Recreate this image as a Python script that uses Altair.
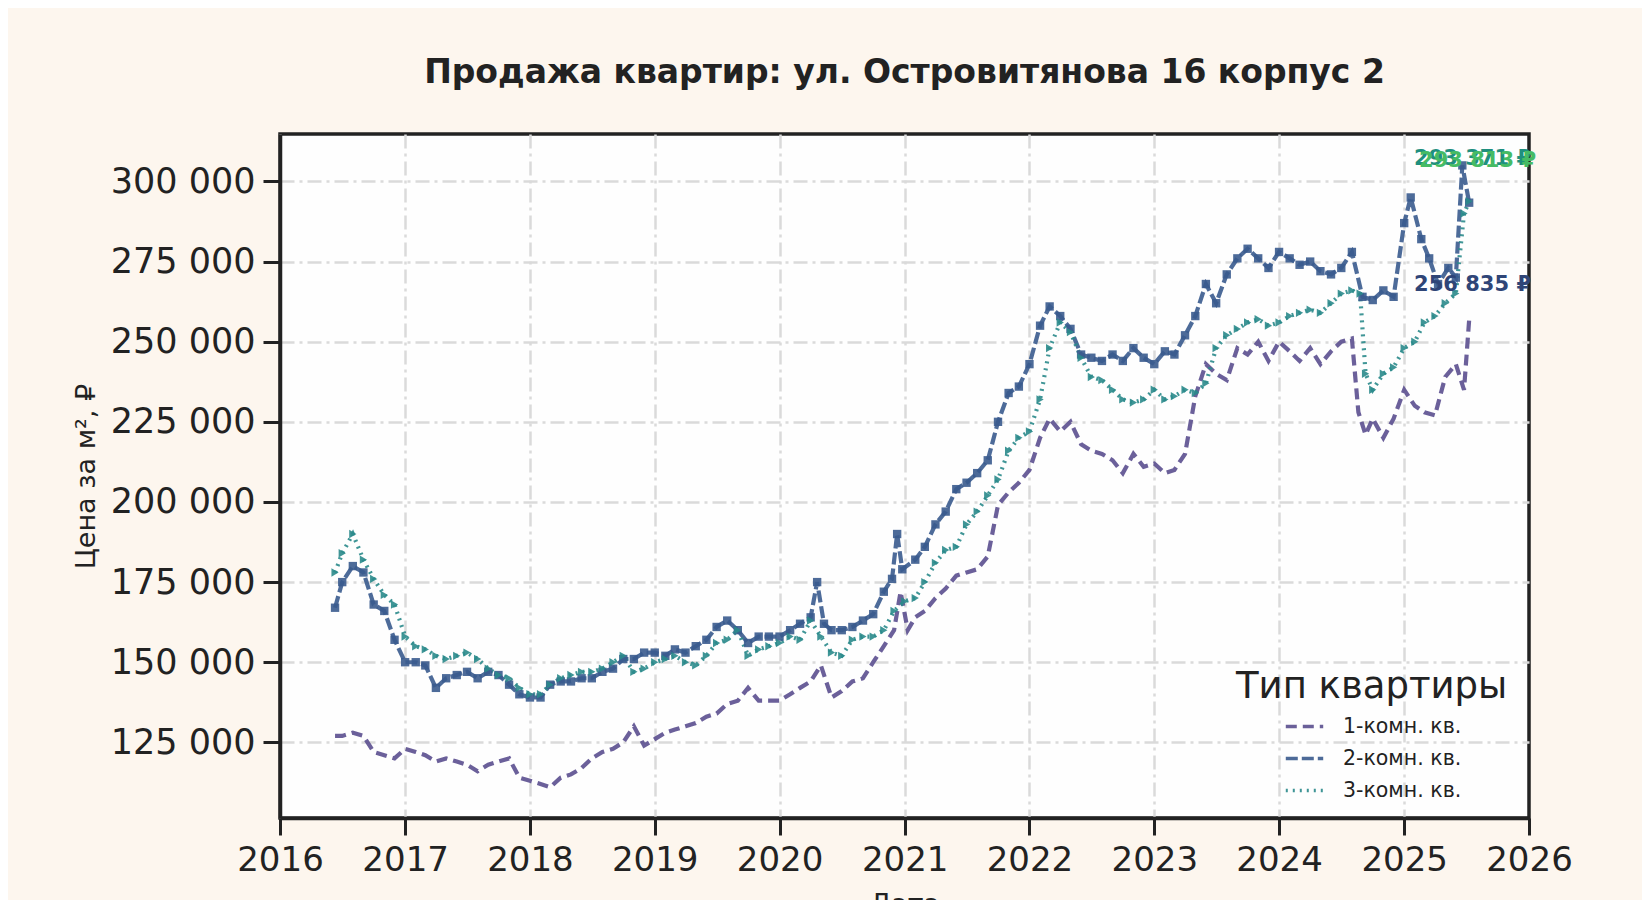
import altair as alt
import pandas as pd

# Цена за м², тыс. ₽
dates_1 = ["2016-06-10", "2016-07-01", "2016-08-01", "2016-09-01", "2016-10-01", "2016-11-01", "2016-12-01",
           "2017-01-01", "2017-02-01", "2017-03-01", "2017-04-01", "2017-05-01", "2017-06-01", "2017-07-01",
           "2017-08-01", "2017-09-01", "2017-10-01", "2017-11-01", "2017-12-01", "2018-01-01", "2018-02-01",
           "2018-03-01", "2018-04-01", "2018-05-01", "2018-06-01", "2018-07-01", "2018-08-01", "2018-09-01",
           "2018-10-01", "2018-11-01", "2018-12-01", "2019-01-01", "2019-02-01", "2019-03-01", "2019-04-01",
           "2019-05-01", "2019-06-01", "2019-07-01", "2019-08-01", "2019-09-01", "2019-10-01", "2019-11-01",
           "2019-12-01", "2020-01-01", "2020-02-01", "2020-03-01", "2020-04-01", "2020-05-01", "2020-06-01",
           "2020-07-01", "2020-08-01", "2020-09-01", "2020-10-01", "2020-11-01", "2020-12-01", "2020-12-20",
           "2021-01-10", "2021-02-01", "2021-03-01", "2021-04-01", "2021-05-01", "2021-06-01", "2021-07-01",
           "2021-08-01", "2021-09-01", "2021-10-01", "2021-11-01", "2021-12-01", "2022-01-01", "2022-02-01",
           "2022-03-01", "2022-04-01", "2022-05-01", "2022-06-01", "2022-07-01", "2022-08-01", "2022-09-01",
           "2022-10-01", "2022-11-01", "2022-12-01", "2023-01-01", "2023-02-01", "2023-03-01", "2023-04-01",
           "2023-05-01", "2023-06-01", "2023-07-01", "2023-08-01", "2023-09-01", "2023-10-01", "2023-11-01",
           "2023-12-01", "2024-01-01", "2024-02-01", "2024-03-01", "2024-04-01", "2024-05-01", "2024-06-01",
           "2024-07-01", "2024-08-01", "2024-08-20", "2024-09-10", "2024-10-01", "2024-11-01", "2024-12-01",
           "2025-01-01", "2025-02-01", "2025-03-01", "2025-04-01", "2025-05-01", "2025-06-01", "2025-06-25",
           "2025-07-10"]
price_1 = [127, 127, 128, 127, 122, 121, 120,
           123, 122, 121, 119, 120, 119, 118,
           116, 118, 119, 120, 114, 113, 112,
           111, 114, 115, 117, 120, 122, 123,
           125, 130, 124, 126, 128, 129, 130,
           131, 133, 134, 137, 138, 142, 138,
           138, 138, 140, 142, 144, 149, 139,
           141, 144, 145, 150, 155, 160, 172,
           160, 164, 166, 170, 173, 177, 178,
           179, 183, 199, 203, 206, 210, 220,
           226, 222, 225, 218, 216, 215, 213,
           209, 215, 211, 212, 209, 210, 215,
           233, 243, 240, 238, 248, 246, 250,
           244, 250, 247, 244, 248, 243, 247,
           250, 251, 228, 221, 226, 220, 226,
           235, 230, 228, 227, 239, 243, 235,
           256.835]

dates_2 = ["2016-06-10", "2016-07-01", "2016-08-01", "2016-09-01", "2016-10-01", "2016-11-01", "2016-12-01",
           "2017-01-01", "2017-02-01", "2017-03-01", "2017-04-01", "2017-05-01", "2017-06-01", "2017-07-01",
           "2017-08-01", "2017-09-01", "2017-10-01", "2017-11-01", "2017-12-01", "2018-01-01", "2018-02-01",
           "2018-03-01", "2018-04-01", "2018-05-01", "2018-06-01", "2018-07-01", "2018-08-01", "2018-09-01",
           "2018-10-01", "2018-11-01", "2018-12-01", "2019-01-01", "2019-02-01", "2019-03-01", "2019-04-01",
           "2019-05-01", "2019-06-01", "2019-07-01", "2019-08-01", "2019-09-01", "2019-10-01", "2019-11-01",
           "2019-12-01", "2020-01-01", "2020-02-01", "2020-03-01", "2020-04-01", "2020-04-20", "2020-05-10",
           "2020-06-01", "2020-07-01", "2020-08-01", "2020-09-01", "2020-10-01", "2020-11-01", "2020-11-25",
           "2020-12-10", "2020-12-25", "2021-02-01", "2021-03-01", "2021-04-01", "2021-05-01", "2021-06-01",
           "2021-07-01", "2021-08-01", "2021-09-01", "2021-10-01", "2021-11-01", "2021-12-01", "2022-01-01",
           "2022-02-01", "2022-03-01", "2022-04-01", "2022-05-01", "2022-06-01", "2022-07-01", "2022-08-01",
           "2022-09-01", "2022-10-01", "2022-11-01", "2022-12-01", "2023-01-01", "2023-02-01", "2023-03-01",
           "2023-04-01", "2023-05-01", "2023-06-01", "2023-07-01", "2023-08-01", "2023-09-01", "2023-10-01",
           "2023-11-01", "2023-12-01", "2024-01-01", "2024-02-01", "2024-03-01", "2024-04-01", "2024-05-01",
           "2024-06-01", "2024-07-01", "2024-08-01", "2024-09-01", "2024-10-01", "2024-11-01", "2024-12-01",
           "2025-01-01", "2025-01-20", "2025-02-20", "2025-03-15", "2025-04-10", "2025-05-10", "2025-06-01",
           "2025-06-20", "2025-07-10"]
price_2 = [167, 175, 180, 178, 168, 166, 157,
           150, 150, 149, 142, 145, 146, 147,
           145, 147, 146, 143, 140, 139, 139,
           143, 144, 144, 145, 145, 147, 148,
           151, 151, 153, 153, 152, 154, 153,
           155, 157, 161, 163, 160, 156, 158,
           158, 158, 160, 162, 164, 175, 162,
           160, 160, 161, 163, 165, 172, 176,
           190, 179, 182, 186, 193, 197, 204,
           206, 209, 213, 225, 234, 236, 243,
           255, 261, 258, 254, 246, 245, 244,
           246, 244, 248, 245, 243, 247, 246,
           252, 258, 268, 262, 271, 276, 279,
           276, 273, 278, 276, 274, 275, 272,
           271, 273, 278, 264, 263, 266, 264,
           287, 295, 282, 276, 268, 273, 270,
           305, 293.371]

dates_3 = ["2016-06-10", "2016-07-01", "2016-08-01", "2016-09-01", "2016-10-01", "2016-11-01", "2016-12-01",
           "2017-01-01", "2017-02-01", "2017-03-01", "2017-04-01", "2017-05-01", "2017-06-01", "2017-07-01",
           "2017-08-01", "2017-09-01", "2017-10-01", "2017-11-01", "2017-12-01", "2018-01-01", "2018-02-01",
           "2018-03-01", "2018-04-01", "2018-05-01", "2018-06-01", "2018-07-01", "2018-08-01", "2018-09-01",
           "2018-10-01", "2018-11-01", "2018-12-01", "2019-01-01", "2019-02-01", "2019-03-01", "2019-04-01",
           "2019-05-01", "2019-06-01", "2019-07-01", "2019-08-01", "2019-09-01", "2019-10-01", "2019-11-01",
           "2019-12-01", "2020-01-01", "2020-02-01", "2020-03-01", "2020-04-01", "2020-05-01", "2020-06-01",
           "2020-07-01", "2020-08-01", "2020-09-01", "2020-10-01", "2020-11-01", "2020-12-01", "2021-01-01",
           "2021-02-01", "2021-03-01", "2021-04-01", "2021-05-01", "2021-06-01", "2021-07-01", "2021-08-01",
           "2021-09-01", "2021-10-01", "2021-11-01", "2021-12-01", "2022-01-01", "2022-02-01", "2022-03-01",
           "2022-04-01", "2022-05-01", "2022-06-01", "2022-07-01", "2022-08-01", "2022-09-01", "2022-10-01",
           "2022-11-01", "2022-12-01", "2023-01-01", "2023-02-01", "2023-03-01", "2023-04-01", "2023-05-01",
           "2023-06-01", "2023-07-01", "2023-08-01", "2023-09-01", "2023-10-01", "2023-11-01", "2023-12-01",
           "2024-01-01", "2024-02-01", "2024-03-01", "2024-04-01", "2024-05-01", "2024-06-01", "2024-07-01",
           "2024-08-01", "2024-08-25", "2024-09-10", "2024-10-01", "2024-11-01", "2024-12-01", "2025-01-01",
           "2025-02-01", "2025-03-01", "2025-04-01", "2025-05-01", "2025-06-01", "2025-06-25", "2025-07-10"]
price_3 = [178, 184, 190, 182, 176, 171, 168,
           158, 155, 154, 152, 151, 152, 153,
           151, 148, 146, 145, 142, 140, 140,
           143, 145, 146, 147, 147, 148, 150,
           152, 147, 148, 150, 151, 152, 150,
           149, 152, 156, 157, 160, 152, 154,
           155, 156, 158, 157, 163, 158, 153,
           152, 157, 158, 158, 160, 166, 169,
           170, 175, 181, 185, 186, 193, 197,
           202, 207, 216, 220, 222, 232, 248,
           256, 253, 245, 239, 238, 235, 232,
           231, 232, 235, 232, 233, 235, 234,
           237, 248, 252, 254, 256, 257, 255,
           256, 258, 259, 260, 259, 262, 265,
           266, 265, 240, 235, 240, 242, 248,
           250, 256, 258, 262, 265, 290, 293.813]

types = ["1-комн. кв.", "2-комн. кв.", "3-комн. кв."]
colors = ["#5b4f8f", "#3a5b8e", "#2a8a8b"]
dashes = [[11, 6], [12, 4], [2, 5]]
shapes = ["circle", "square", "triangle-right"]

# подписи последних значений
end_labels = ["256 835 ₽", "293 371 ₽", "293 813 ₽"]
end_values = [256835, 293371, 293813]
end_colors = ["#2f4577", "#1f8f7e", "#46bb64"]
end_dy = [-35, -44, -40]
end_dx = [2, 2, 7]

frames = []
for name, d, p in zip(types, [dates_1, dates_2, dates_3], [price_1, price_2, price_3]):
    frames.append(pd.DataFrame({"date": pd.to_datetime(d), "price": [v * 1000 for v in p], "type": name}))
df = pd.concat(frames, ignore_index=True)

font = "DejaVu Sans"
ink = "#222222"

x = alt.X("date:T", title="Дата",
          scale=alt.Scale(domain=[alt.DateTime(year=2016, month=1, date=1),
                                  alt.DateTime(year=2026, month=1, date=1)]),
          axis=alt.Axis(format="%Y", tickCount={"interval": "year", "step": 1}, labelOverlap=False,
                        labelFlush=False, labelFontSize=34, titlePadding=14,
                        gridOpacity={"condition": {"test": "year(datum.value) == 2026", "value": 0},
                                     "value": 1}))
y = alt.Y("price:Q", title="Цена за м², ₽",
          scale=alt.Scale(domain=[101400, 314800], nice=False, zero=False),
          axis=alt.Axis(values=[125000, 150000, 175000, 200000, 225000, 250000, 275000, 300000],
                        labelExpr="format(datum.value / 1000, 'd') + ' 000'", labelFontSize=35,
                        titlePadding=10))

legend = alt.Legend(
    title="Тип квартиры", orient="none", legendX=956, legendY=535, padding=0,
    titleFont=font, titleFontSize=37, titleFontWeight="normal", titleColor=ink, titlePadding=0,
    titleLimit=500, labelFont=font, labelFontSize=20.5, labelColor=ink,
    symbolType="stroke", symbolSize=1400, symbolStrokeWidth=3.5,
    symbolOffset=48, labelOffset=18, rowPadding=1)

color = alt.Color("type:N", scale=alt.Scale(domain=types, range=colors), legend=legend)
dash = alt.StrokeDash("type:N", scale=alt.Scale(domain=types, range=dashes), legend=legend)

lines = alt.Chart(df).mark_line(strokeWidth=4.2, opacity=0.9).encode(
    x=x, y=y, color=color, strokeDash=dash)

# маркеры для 2- и 3-комнатных
markers = []
for i in (1, 2):
    markers.append(alt.Chart(df).transform_filter(alt.datum.type == types[i])
                   .mark_point(filled=True, size=70, opacity=0.9, shape=shapes[i], color=colors[i])
                   .encode(x=x, y=y))

texts = []
for lab, val, col, dy, dx in zip(end_labels, end_values, end_colors, end_dy, end_dx):
    texts.append(alt.Chart(pd.DataFrame({"date": [pd.Timestamp("2026-01-01")], "price": [val], "label": [lab]}))
                 .mark_text(align="right", baseline="middle", font=font, fontSize=21, fontWeight="bold",
                            color=col, dx=dx, dy=dy)
                 .encode(x=x, y=y, text="label:N"))

chart = alt.layer(lines, *markers, *texts).properties(
    width=1249, height=684,
    autosize=alt.AutoSizeParams(type="none"),
    padding={"left": 272, "top": 126, "right": 113, "bottom": 82},
    background="#fdf6ee",
    title=alt.TitleParams("Продажа квартир: ул. Островитянова 16 корпус 2", font=font, fontSize=33,
                          fontWeight="bold", color=ink, offset=44),
).configure_view(
    fill="#fefefe", stroke=ink, strokeWidth=3.5
).configure_axis(
    labelFont=font, labelColor=ink, labelPadding=8,
    titleFont=font, titleFontSize=27, titleFontWeight="normal", titleColor=ink,
    domainColor=ink, domainWidth=3.5, tickColor=ink, tickWidth=3, tickSize=17,
    gridColor="#dadada", gridWidth=2.5, gridDash=[14, 5, 3, 5],
)

chart.save("out.html", embed_options={"renderer": "svg", "actions": False})
